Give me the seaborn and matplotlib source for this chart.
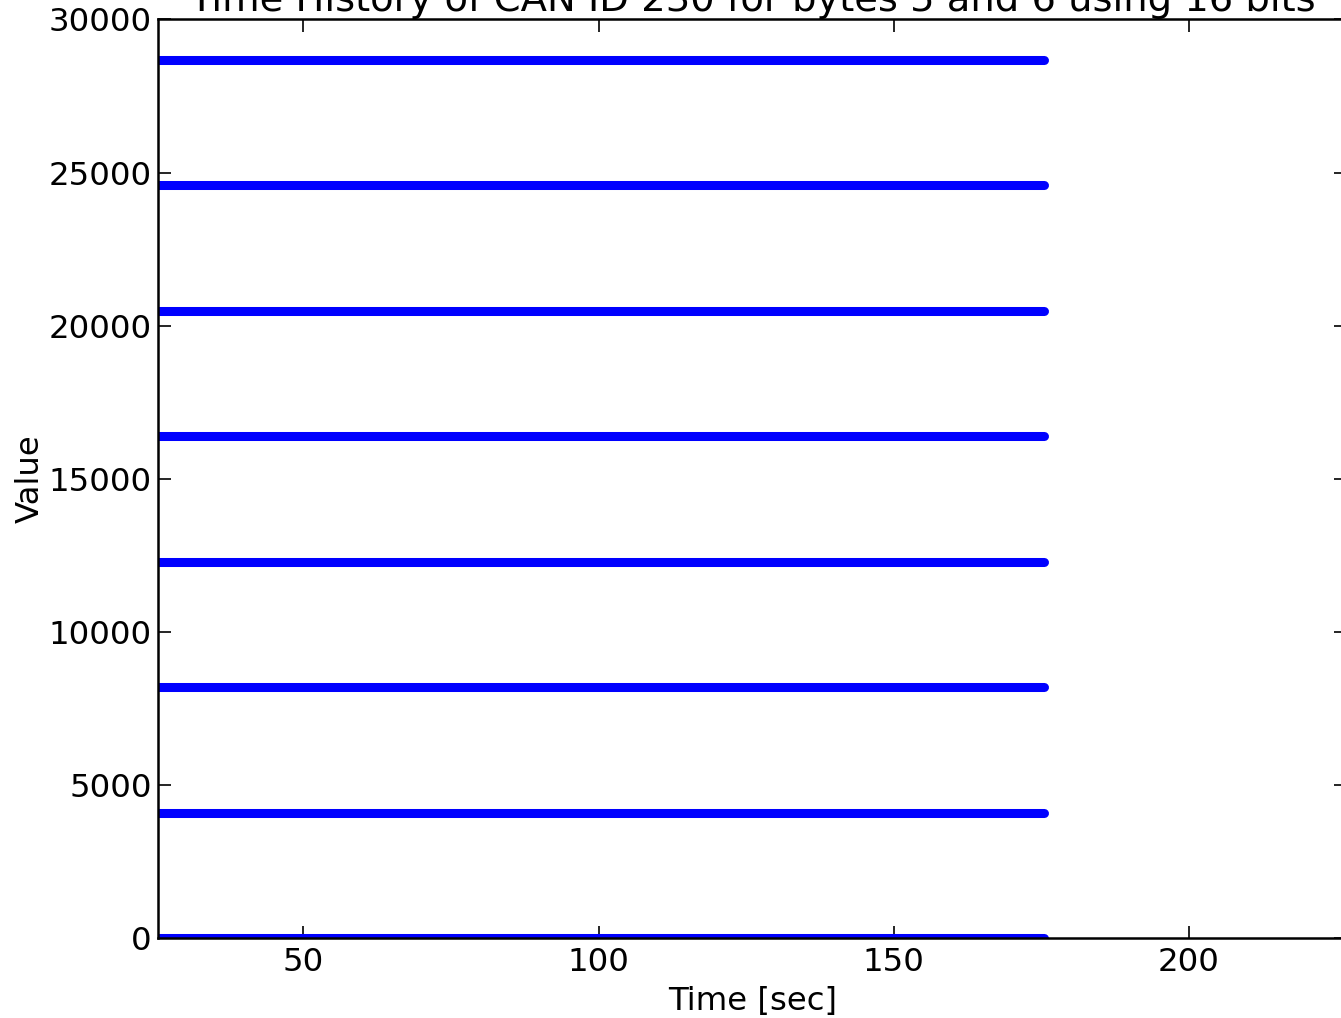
import matplotlib
matplotlib.use("Agg")
import matplotlib.pyplot as plt
import numpy as np
import pandas as pd
import seaborn as sns

# Observed signal levels (bytes 5-6 as 16 bit value) and recording span
levels = [0, 4096, 8192, 12288, 16384, 20480, 24576, 28672]
time_span = [25.4, 175.4]
x_ticks = [50, 100, 150, 200]
y_ticks = [0, 5000, 10000, 15000, 20000, 25000, 30000]

rows = [(t, v) for v in levels for t in time_span]
df = pd.DataFrame(rows, columns=["time", "value"])

sns.set_style("ticks")
plt.rcParams["font.family"] = ["DejaVu Sans"]
plt.rcParams["text.color"] = "black"
plt.rcParams["axes.labelcolor"] = "black"
plt.rcParams["xtick.color"] = "black"
plt.rcParams["ytick.color"] = "black"
plt.rcParams["xtick.direction"] = "in"
plt.rcParams["ytick.direction"] = "in"
plt.rcParams["xtick.top"] = True
plt.rcParams["ytick.right"] = True

fig = plt.figure(figsize=(13.41, 10.18), dpi=100)
ax = fig.add_axes([0.118, 0.0783, 0.8858, 0.9027])

sns.lineplot(data=df, x="time", y="value", units="value", estimator=None,
             color="#0000ff", linewidth=6.5, solid_capstyle="round", ax=ax, legend=False)

ax.set_xlim(25.4, 226.6)
ax.set_ylim(0, 30000)
ax.set_xticks(x_ticks)
ax.set_yticks(y_ticks)
ax.tick_params(axis="both", which="major", length=9, width=1.2, labelsize=23.3)
ax.tick_params(axis="x", pad=6)
ax.tick_params(axis="y", pad=4.5)
for side in ["top", "bottom", "left", "right"]:
    ax.spines[side].set_linewidth(1.8)
    ax.spines[side].set_color("black")

ax.set_xlabel("Time [sec]", fontsize=23.3, labelpad=6)
ax.set_ylabel("Value", fontsize=23.3, labelpad=2)
ax.set_title("Time History of CAN ID 230 for bytes 5 and 6 using 16 bits", fontsize=27.7, pad=6)

fig.savefig("out.png", dpi=100)
